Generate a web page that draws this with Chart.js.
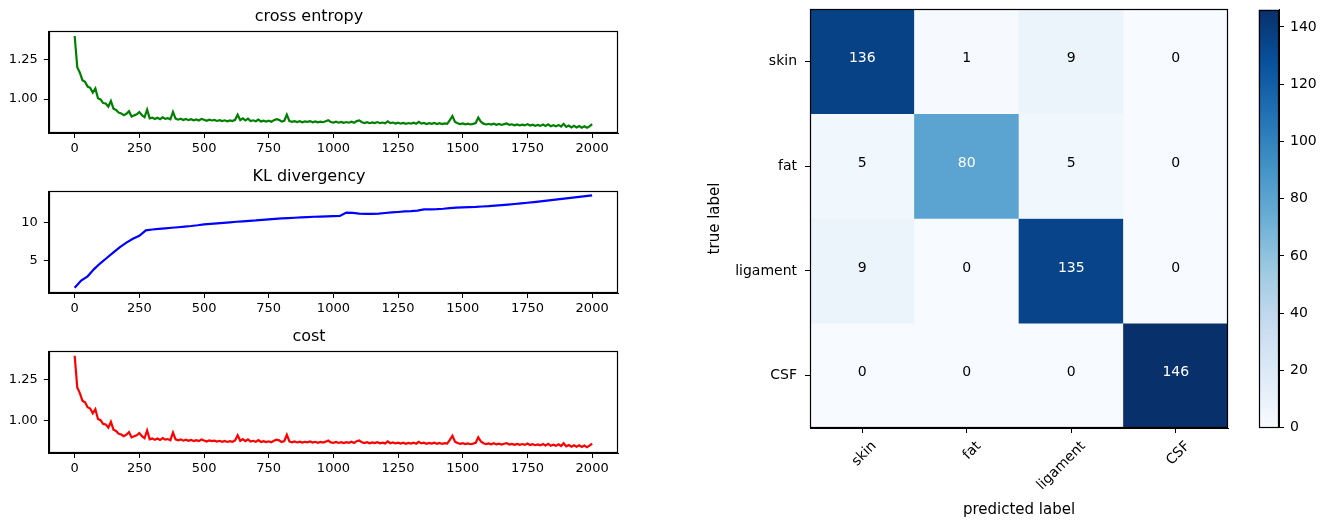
<!DOCTYPE html>
<html><head><meta charset="utf-8">
<script src="https://cdn.jsdelivr.net/npm/chart.js@4.4.1/dist/chart.umd.min.js"></script>
<style>
html,body{margin:0;padding:0;background:#fff;width:1325px;height:523px;overflow:hidden}
canvas{position:absolute}
</style></head><body>
<canvas id="c1" style="left:0;top:0;width:630px;height:160px" width="630" height="160"></canvas>
<canvas id="c2" style="left:0;top:160px;width:630px;height:160px" width="630" height="160"></canvas>
<canvas id="c3" style="left:0;top:320px;width:630px;height:160px" width="630" height="160"></canvas>
<canvas id="cm" style="left:680px;top:0;width:560px;height:523px" width="560" height="523"></canvas>
<canvas id="cb" style="left:1240px;top:0;width:85px;height:523px" width="85" height="523"></canvas>
<script>
// ---------- data ----------
const lossIterations = Array.from({length: 201}, (_, i) => i * 10);
const klIterations = Array.from({length: 81}, (_, i) => i * 25);

const crossEntropy = [
1.395,1.200,1.165,1.118,1.108,1.078,1.070,1.040,1.066,1.005,
0.998,0.975,0.972,0.952,0.988,0.940,0.932,0.915,0.910,0.899,
0.908,0.924,0.891,0.898,0.904,0.918,0.899,0.886,0.934,0.879,
0.884,0.875,0.883,0.874,0.886,0.876,0.880,0.873,0.920,0.878,
0.871,0.877,0.869,0.875,0.868,0.874,0.867,0.872,0.866,0.876,
0.870,0.864,0.871,0.866,0.869,0.863,0.868,0.862,0.867,0.861,
0.866,0.862,0.870,0.902,0.868,0.879,0.866,0.877,0.862,0.867,
0.861,0.872,0.860,0.865,0.859,0.864,0.858,0.867,0.874,0.870,
0.859,0.864,0.903,0.862,0.857,0.862,0.856,0.861,0.855,0.860,
0.857,0.862,0.855,0.860,0.854,0.859,0.855,0.861,0.868,0.856,
0.853,0.858,0.852,0.857,0.851,0.856,0.852,0.858,0.851,0.862,
0.866,0.855,0.850,0.855,0.849,0.854,0.850,0.856,0.849,0.853,
0.848,0.860,0.849,0.853,0.847,0.852,0.846,0.851,0.845,0.850,
0.846,0.852,0.845,0.857,0.846,0.850,0.844,0.849,0.845,0.851,
0.844,0.849,0.843,0.848,0.845,0.868,0.893,0.856,0.848,0.843,
0.847,0.842,0.846,0.841,0.845,0.850,0.884,0.858,0.846,0.841,
0.845,0.840,0.846,0.839,0.844,0.838,0.843,0.847,0.838,0.842,
0.836,0.841,0.835,0.840,0.835,0.843,0.834,0.839,0.833,0.838,
0.832,0.840,0.831,0.842,0.830,0.836,0.829,0.838,0.828,0.845,
0.826,0.834,0.823,0.833,0.822,0.831,0.821,0.830,0.820,0.829,
0.843];

const klDivergency = [
1.45,2.40,2.95,3.90,4.70,5.40,6.10,6.80,7.40,7.90,
8.30,9.00,9.12,9.20,9.28,9.35,9.42,9.50,9.58,9.68,
9.80,9.86,9.93,10.00,10.07,10.14,10.20,10.26,10.32,10.40,
10.46,10.52,10.58,10.63,10.67,10.72,10.76,10.80,10.83,10.86,
10.88,10.90,11.35,11.30,11.22,11.18,11.17,11.22,11.30,11.37,
11.43,11.50,11.55,11.62,11.78,11.78,11.80,11.86,11.95,12.00,
12.05,12.08,12.10,12.15,12.20,12.27,12.33,12.40,12.48,12.56,
12.65,12.74,12.84,12.93,13.03,13.13,13.22,13.32,13.42,13.52,
13.62];

const cost = [
1.398,1.203,1.168,1.121,1.111,1.081,1.073,1.043,1.069,1.008,
1.001,0.978,0.975,0.955,0.991,0.943,0.935,0.918,0.913,0.902,
0.912,0.928,0.895,0.902,0.908,0.922,0.903,0.890,0.938,0.883,
0.889,0.880,0.888,0.879,0.891,0.881,0.885,0.878,0.925,0.883,
0.877,0.883,0.875,0.881,0.874,0.880,0.873,0.878,0.872,0.882,
0.876,0.870,0.877,0.872,0.875,0.869,0.874,0.868,0.873,0.867,
0.872,0.868,0.876,0.908,0.874,0.885,0.872,0.883,0.869,0.874,
0.868,0.879,0.867,0.872,0.866,0.871,0.865,0.874,0.881,0.877,
0.866,0.872,0.911,0.870,0.865,0.870,0.864,0.869,0.863,0.868,
0.865,0.870,0.863,0.868,0.862,0.867,0.863,0.869,0.876,0.864,
0.862,0.867,0.861,0.866,0.860,0.866,0.862,0.868,0.861,0.872,
0.876,0.865,0.860,0.865,0.859,0.864,0.860,0.866,0.859,0.863,
0.858,0.870,0.859,0.864,0.858,0.863,0.857,0.862,0.856,0.861,
0.857,0.863,0.856,0.868,0.858,0.862,0.856,0.861,0.857,0.863,
0.856,0.861,0.855,0.860,0.857,0.880,0.905,0.868,0.860,0.855,
0.859,0.854,0.858,0.853,0.857,0.862,0.896,0.870,0.859,0.854,
0.858,0.853,0.859,0.852,0.857,0.851,0.856,0.860,0.851,0.855,
0.849,0.855,0.849,0.854,0.849,0.857,0.848,0.853,0.847,0.852,
0.846,0.854,0.845,0.856,0.844,0.850,0.843,0.852,0.842,0.859,
0.840,0.848,0.838,0.847,0.837,0.846,0.836,0.845,0.835,0.844,
0.857];

const iterTicks = [0, 250, 500, 750, 1000, 1250, 1500, 1750, 2000];
const ceTicks = [1.00, 1.25];
const klTicks = [5, 10];
const costTicks = [1.00, 1.25];

const classLabels = ['skin', 'fat', 'ligament', 'CSF'];
const confusion = [
  [136, 1, 9, 0],
  [5, 80, 5, 0],
  [9, 0, 135, 0],
  [0, 0, 0, 146]
];
const colorbarTicks = [0, 20, 40, 60, 80, 100, 120, 140];

// ---------- helpers ----------
const FONT = 'DejaVu Sans';
const BLUES = [[247,251,255],[222,235,247],[198,219,239],[158,202,225],[107,174,214],[66,146,198],[33,113,181],[8,81,156],[8,48,107]];
function blues(t) {
  t = Math.max(0, Math.min(1, t));
  const p = t * 8, i = Math.min(7, Math.floor(p)), f = p - i;
  const a = BLUES[i], b = BLUES[i + 1];
  return 'rgb(' + [0,1,2].map(k => Math.round(a[k] + (b[k] - a[k]) * f)).join(',') + ')';
}
const cmMax = Math.max(...confusion.flat());

const framePlugin = {
  id: 'frame',
  afterDraw(chart) {
    const {ctx, chartArea: a} = chart;
    ctx.save();
    ctx.strokeStyle = '#000';
    ctx.lineWidth = 1.2;
    ctx.strokeRect(Math.round(a.left) + 0.5, Math.round(a.top) + 0.5, Math.round(a.width) - 1, Math.round(a.height) - 1);
    ctx.restore();
  }
};

function axisStyle() {
  return {
    grid: {drawOnChartArea: false, drawTicks: true, tickLength: 5, color: '#000', tickWidth: 1},
    border: {display: true, color: '#000', width: 1}
  };
}
function noVPad(s) { s.paddingTop = 0; s.paddingBottom = 0; }

function lossChart(id, title, iters, values, color, yMin, yMax, yTicks, fmt) {
  new Chart(document.getElementById(id), {
    type: 'line',
    data: {labels: iters, datasets: [{data: values, borderColor: color, borderWidth: 2.2, pointRadius: 0, tension: 0, fill: false}]},
    options: {
      responsive: false, animation: false, events: [],
      layout: {padding: {left: 0, right: 12, top: 0, bottom: 0}},
      plugins: {
        legend: {display: false}, tooltip: {enabled: false},
        title: {display: true, text: title, color: '#000', font: {family: FONT, size: 16, weight: 'normal'}, padding: {top: 7, bottom: 5}}
      },
      scales: {
        x: Object.assign(axisStyle(), {
          type: 'linear', min: -100, max: 2100,
          afterBuildTicks: s => { s.ticks = iterTicks.map(v => ({value: v})); },
          afterFit: s => { s.height = 27; },
          ticks: {color: '#000', font: {family: FONT, size: 13}, padding: 3, maxRotation: 0, autoSkip: false, callback: v => String(v)}
        }),
        y: Object.assign(axisStyle(), {
          min: yMin, max: yMax,
          afterBuildTicks: s => { s.ticks = yTicks.map(v => ({value: v})); },
          afterFit: s => { s.width = 48.8; noVPad(s); },
          ticks: {color: '#000', font: {family: FONT, size: 13}, padding: 6, callback: v => fmt(v)}
        })
      }
    },
    plugins: [framePlugin]
  });
}

lossChart('c1', 'cross entropy', lossIterations, crossEntropy, '#008000', 0.7875, 1.425, ceTicks, v => v.toFixed(2));
lossChart('c2', 'KL divergency', klIterations, klDivergency, '#0000ff', 0.75, 14.17, klTicks, v => String(v));
lossChart('c3', 'cost', lossIterations, cost, '#ff0000', 0.799, 1.426, costTicks, v => v.toFixed(2));

// ---------- confusion matrix ----------
const cellText = {
  id: 'cellText',
  afterDatasetsDraw(chart) {
    const ctx = chart.ctx;
    ctx.save();
    ctx.font = '14px "' + FONT + '"';
    ctx.textAlign = 'center';
    ctx.textBaseline = 'middle';
    chart.data.datasets.forEach((ds, di) => {
      chart.getDatasetMeta(di).data.forEach((bar, j) => {
        const v = ds.counts[j];
        ctx.fillStyle = v > cmMax / 2 ? '#fff' : '#000';
        ctx.fillText(String(v), bar.x, (bar.y + bar.base) / 2 - 3);
      });
    });
    ctx.restore();
  }
};

new Chart(document.getElementById('cm'), {
  type: 'bar',
  data: {
    labels: classLabels,
    datasets: confusion.map((row, r) => ({
      label: classLabels[r],
      counts: row,
      data: row.map(() => [r - 0.5, r + 0.5]),
      backgroundColor: row.map(v => blues(v / cmMax)),
      borderWidth: 0,
      barPercentage: 1, categoryPercentage: 1,
      grouped: false
    }))
  },
  options: {
    responsive: false, animation: false, events: [],
    layout: {padding: {left: 0, right: 12, top: 9, bottom: 0}},
    plugins: {legend: {display: false}, tooltip: {enabled: false}},
    scales: {
      x: Object.assign(axisStyle(), {
        type: 'category', offset: true,
        grid: {offset: false, drawOnChartArea: false, drawTicks: true, tickLength: 5, color: '#000'},
        ticks: {color: '#000', font: {family: FONT, size: 14}, minRotation: 45, maxRotation: 45, padding: 5, labelOffset: 12, autoSkip: false},
        title: {display: true, text: 'predicted label', color: '#000', font: {family: FONT, size: 15}, padding: {top: 0, bottom: 4}},
        afterFit: s => { s.height = 95; }
      }),
      y: Object.assign(axisStyle(), {
        type: 'linear', min: -0.5, max: 3.5, reverse: true, stacked: false,
        afterBuildTicks: s => { s.ticks = classLabels.map((_, i) => ({value: i})); },
        afterFit: s => { s.width = 130; noVPad(s); },
        ticks: {color: '#000', font: {family: FONT, size: 14}, padding: 8, callback: v => classLabels[v]},
        title: {display: true, text: 'true label', color: '#000', font: {family: FONT, size: 15}, padding: {top: 26, bottom: 0}}
      })
    }
  },
  plugins: [cellText, framePlugin]
});

// ---------- colorbar ----------
new Chart(document.getElementById('cb'), {
  type: 'bar',
  data: {
    labels: [''],
    datasets: [{
      data: [[0, cmMax]],
      backgroundColor: (c) => {
        const area = c.chart.chartArea;
        if (!area) return blues(0.5);
        const g = c.chart.ctx.createLinearGradient(0, area.bottom, 0, area.top);
        BLUES.forEach((_, i) => g.addColorStop(i / 8, blues(i / 8)));
        return g;
      },
      borderWidth: 0, barPercentage: 1, categoryPercentage: 1
    }]
  },
  options: {
    responsive: false, animation: false, events: [],
    layout: {padding: {left: 18.7, right: 0, top: 9.7, bottom: 95.3}},
    plugins: {legend: {display: false}, tooltip: {enabled: false}},
    scales: {
      x: {display: false},
      y: Object.assign(axisStyle(), {
        position: 'right', min: 0, max: cmMax,
        afterBuildTicks: s => { s.ticks = colorbarTicks.map(v => ({value: v})); },
        afterFit: s => { s.width = 46; noVPad(s); },
        ticks: {color: '#000', font: {family: FONT, size: 14}, padding: 6}
      })
    }
  },
  plugins: [framePlugin]
});
</script>
</body></html>
